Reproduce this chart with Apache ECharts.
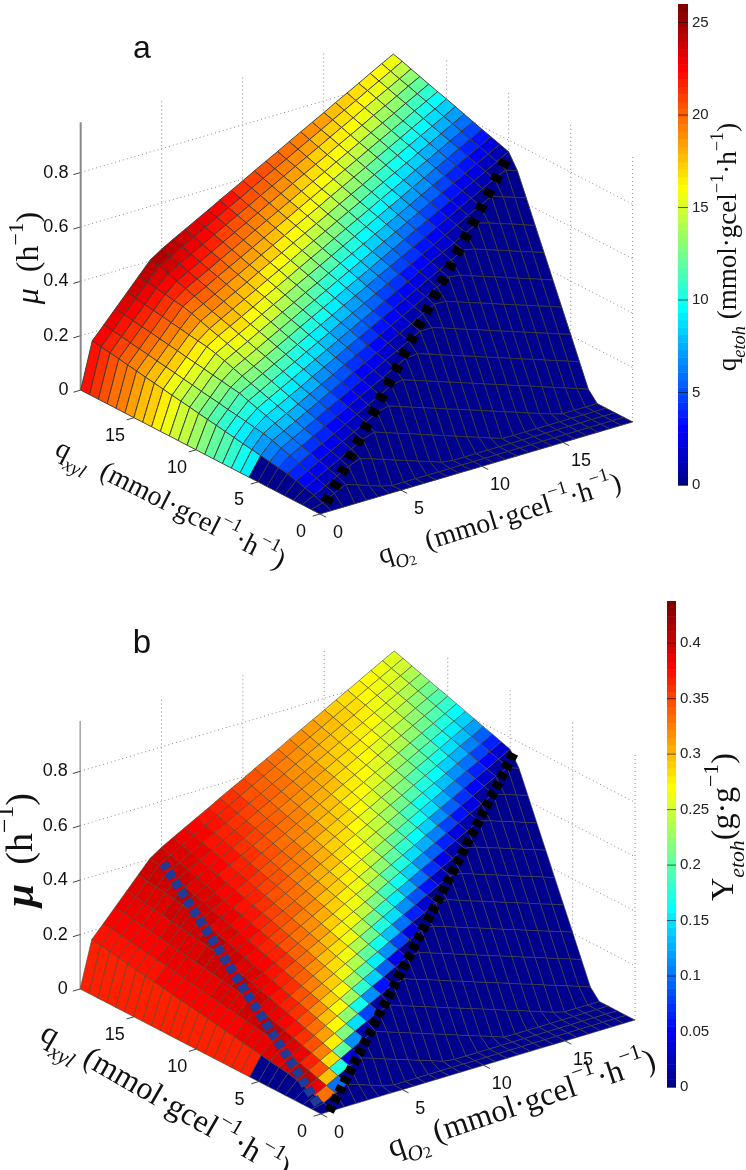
<!DOCTYPE html><html><head><meta charset="utf-8"><style>html,body{margin:0;background:#fff}#c{width:746px;height:1170px}</style>
<script src="https://cdn.jsdelivr.net/npm/echarts@6/dist/echarts.min.js"></script></head><body><div id="c"></div><script>
// grid positions along both floor axes (mmol/gcel/h)
const qO2Values=[0,.715,1.43,2.144,2.859,3.574,4.289,5.004,5.719,6.433,7.148,7.863,8.578,9.293,10.007,10.722,11.437,12.152,12.867,13.581,14.296,15.011,15.726,16.441,17.156,17.87,18.585,19.3];
const qXylValues=[0,.715,1.43,2.144,2.859,3.574,4.289,5.004,5.719,6.433,7.148,7.863,8.578,9.293,10.007,10.722,11.437,12.152,12.867,13.581,14.296,15.011,15.726,16.441,17.156,17.87,18.585,19.3];
// growth rate, in 1/1000 h-1; one row per qXyl, one column per qO2 (missing trailing entries are 0)
const muRows=[
[0],
[0,11,34,54,40,25,10],
[0,22,45,68,91,108,94,79,64,50,35,21,6],
[0,32,56,79,102,126,149,163,148,133,119,104,89,75,60,45,31,16,1],
[0,43,66,90,113,136,160,183,206,217,202,187,173,158,143,129,114,100,85,70,56,41,26,12],
[0,51,77,101,124,147,170,194,217,240,264,271,256,242,227,212,198,183,168,154,139,124,110,95,80,66,51,36],
[0,56,88,111,135,158,181,205,228,251,274,298,321,325,311,296,281,267,252,237,223,208,193,179,164,149,135,120],
[0,61,99,122,145,169,192,215,239,262,285,309,332,355,378,379,365,350,335,321,306,291,277,262,247,233,218,204],
[0,67,110,133,156,180,203,226,249,273,296,319,343,366,389,413,436,434,419,404,390,375,360,346,331,316,302,287],
[0,72,119,144,167,190,214,237,260,284,307,330,353,377,400,423,447,470,493,488,473,458,444,429,414,400,385,370],
[0,77,124,155,178,201,224,248,271,294,318,341,364,388,411,434,457,481,504,527,551,542,527,513,498,483,469,454],
[0,83,130,165,189,212,235,259,282,305,328,352,375,398,422,445,468,492,515,538,561,585,608,596,581,567,552,537],
[0,88,135,176,199,223,246,269,293,316,339,363,386,409,432,456,479,502,526,549,572,596,619,642,665,650,636,621],
[0,94,140,187,210,234,257,280,303,327,350,373,397,420,443,467,490,513,536,560,583,606,630,653,676,700,719,704],
[0,99,146,192,221,244,268,291,314,338,361,384,407,431,454,477,501,524,547,571,594,617,640,664,687,710,734,757],
[0,104,151,198,232,255,278,302,325,348,372,395,418,442,465,488,511,535,558,581,605,628,651,675,698,721,744,768],
[0,110,156,203,243,266,289,313,336,359,382,406,429,452,476,499,522,546,569,592,615,639,662,685,709,732,755,779],
[0,115,162,209,253,277,300,323,347,370,393,417,440,463,486,510,533,556,580,603,626,650,673,696,719,743,766,789],
[0,120,167,214,261,288,311,334,357,381,404,427,451,474,497,521,544,567,590,614,637,660,684,707,730,754,777,800],
[0,126,173,219,266,298,322,345,368,391,415,438,461,485,508,531,555,578,601,625,648,671,694,718,741,764,788,811],
[0,131,178,225,271,309,332,356,379,402,426,449,472,496,519,542,565,589,612,635,659,682,705,729,752,775,798,822],
[0,136,183,230,277,320,343,366,390,413,436,460,483,506,530,553,576,600,623,646,669,693,716,739,763,786,809,833],
[0,142,189,235,282,329,354,377,401,424,447,470,494,517,540,564,587,610,634,657,680,704,727,750,773,797,820,843],
[0,147,194,241,288,334,365,388,411,435,458,481,505,528,551,574,598,621,644,668,691,714,738,761,784,808,831,854],
[0,153,199,246,293,340,376,399,422,445,469,492,515,539,562,585,609,632,655,678,702,725,748,772,795,818,842,865],
[0,158,205,251,298,345,386,410,433,456,480,503,526,549,573,596,619,643,666,689,713,736,759,783,806,829,852,876],
[0,163,210,257,304,350,397,420,444,467,490,514,537,560,584,607,630,653,677,700,723,747,770,793,817,840,863,887],
[0,169,215,262,309,356,403,431,455,478,501,524,548,571,594,618,641,664,688,711,734,757,781,804,827,851,874,897]];
// ethanol rate per cell, in 1/10 mmol/gcel/h (panel a)
const qEtohRows=[
[0],
[0,8,2],
[0,21,14,8,2],
[0,30,26,20,14,8,1],
[0,38,39,32,26,20,13,7,1],
[0,47,50,44,38,32,26,19,13,7],
[0,55,59,57,50,44,38,31,25,19,13,6],
[0,64,68,69,62,56,50,44,37,31,25,18,12,6],
[93,72,76,80,75,68,62,56,49,43,37,31,24,18,12,5],
[100,81,85,89,87,80,74,68,62,55,49,43,36,30,24,18,11,5],
[107,90,93,97,99,93,86,80,74,67,61,55,49,42,36,30,23,17,11,5],
[114,98,102,106,110,105,98,92,86,80,73,67,61,54,48,42,36,29,23,17,10,4],
[121,107,111,114,118,117,111,104,98,92,85,79,73,67,60,54,48,41,35,29,23,16,10,4],
[129,115,119,123,127,129,123,116,110,104,98,91,85,79,72,66,60,54,47,41,35,28,22,16,9,3],
[136,124,128,131,135,139,135,129,122,116,110,103,97,91,85,78,72,66,59,53,47,41,34,28,22,15,9],
[143,132,136,140,144,148,147,141,134,128,122,116,109,103,97,90,84,78,72,65,59,53,46,40,34,27,21],
[150,141,145,149,152,156,158,153,147,140,134,128,121,115,109,103,96,90,84,77,71,65,58,52,46,40,33],
[157,150,153,157,161,165,167,162,158,152,146,140,134,127,121,115,108,102,96,90,83,77,71,64,58,52,45],
[164,158,162,166,170,173,176,171,167,162,158,152,146,139,133,127,121,114,108,102,95,89,83,76,70,64,58],
[171,167,171,174,178,182,185,180,176,171,166,162,157,152,145,139,133,127,120,114,107,101,95,89,82,76,70],
[178,175,179,183,187,190,194,189,185,180,175,171,166,161,157,151,145,139,132,126,120,113,107,101,94,88,82],
[185,184,188,191,195,199,203,198,194,189,184,180,175,170,166,161,157,151,144,138,132,125,119,113,107,100,94],
[192,193,196,200,204,208,211,207,203,198,193,189,184,179,175,170,165,161,156,150,144,138,131,125,119,112,106],
[199,201,205,209,212,216,220,216,212,207,202,198,193,188,184,179,174,170,165,161,156,150,143,137,131,125,118],
[206,210,213,217,221,225,229,225,221,216,211,207,202,197,193,188,183,179,174,169,165,160,156,149,143,137,130],
[213,218,222,226,230,233,237,234,230,225,220,216,211,206,202,197,192,188,183,178,174,169,165,160,155,149,143],
[220,227,231,234,238,242,246,243,239,234,229,225,220,215,211,206,201,197,192,187,183,178,173,169,164,160,155]];
// ethanol yield per cell, in 1/1000 g/g (panel b)
const yEtohRows=[
[0],
[0,334,96],
[0,389,295,176,39],
[0,407,344,282,202,110,19],
[0,409,369,322,275,215,147,78,9],
[0,401,384,346,309,271,223,168,113,59,4],
[0,395,394,362,331,300,268,228,183,137,91,46],
[0,391,401,374,347,320,293,267,232,193,154,115,76,36],
[365,388,406,383,359,336,312,289,265,235,201,167,132,98,64,30],
[365,386,404,389,368,348,327,306,285,264,237,207,176,146,115,85,55,24],
[365,385,401,395,376,357,338,320,301,282,263,239,212,184,157,129,102,75,47,20],
[365,383,398,399,382,365,348,331,314,297,280,262,240,216,191,166,141,116,91,66,41,16],
[365,382,395,403,387,371,356,340,324,309,293,277,262,242,219,196,173,150,127,105,82,59,36,13],
[365,381,393,406,391,377,363,348,334,319,305,290,276,261,243,222,201,179,158,137,116,95,74,53,32,11],
[365,380,391,403,395,382,368,355,341,328,315,301,288,274,261,244,224,204,185,165,146,126,107,87,67,48,28],
[365,379,390,401,398,386,373,361,348,336,323,311,298,286,273,261,244,226,208,190,171,153,135,116,98,80,62],
[365,378,388,398,401,389,378,366,354,342,331,319,307,295,284,272,260,245,228,211,194,177,159,142,125,108,91],
[365,377,387,397,404,393,382,370,359,348,337,326,315,304,293,282,271,260,246,230,214,197,181,165,149,133,117],
[365,377,386,395,404,395,385,375,364,354,343,333,322,312,301,291,281,270,260,246,231,216,200,185,170,155,140],
[365,377,385,394,402,398,388,378,368,358,348,339,329,319,309,299,289,279,269,259,247,232,218,203,189,174,160],
[365,376,384,392,401,400,391,381,372,363,353,344,334,325,316,306,297,287,278,269,259,247,233,220,206,192,178],
[365,376,383,391,399,402,393,384,375,366,357,349,340,331,322,313,304,295,286,277,268,259,247,234,221,208,195],
[365,375,383,390,398,404,396,387,378,370,361,353,344,336,327,319,310,302,293,284,276,267,259,248,235,223,210],
[365,375,382,389,396,403,398,389,381,373,365,357,349,340,332,324,316,308,300,291,283,275,267,259,248,236,224],
[365,375,382,388,395,402,400,392,384,376,368,360,353,345,337,329,321,313,306,298,290,282,274,266,259,249,237],
[365,375,381,388,394,401,401,394,386,379,371,364,356,349,341,334,326,319,311,304,296,288,281,273,266,258,249],
[365,374,381,387,393,399,403,396,388,381,374,367,360,352,345,338,331,323,316,309,302,294,287,280,273,266,258]];
const zTicks=[0,.2,.4,.6,.8],floorTicks=[0,5,10,15],cbTicksA=[0,5,10,15,20,25],cbTicksB=[0,.05,.1,.15,.2,.25,.3,.35,.4];
// dashed curves on the surface: [qO2, qXyl, mu]
const blackLineA=[[.6,.31,.023],[19.3,10,.746]],blackLineB=[[.5,0,0],[19.3,9.7,.752]],blueLineB=[[.2,.5,.02],[4.5,18.5,.40]];
const N=28,QMAX=19.3,ZTOP=.985;
const panels=[
 {ux:16.2,uy:-12.4,vx:4.77,vy:6.42,vz:272,c:qEtohRows,scale:10,max:26,stroke:'rgba(55,55,55,.9)',lw:1,axisW:2,axisC:'#888'},
 {ux:16.27,uy:-12.48,vx:4.87,vy:6.48,vz:272,c:yEtohRows,scale:1000,max:.438,stroke:'rgba(70,70,50,.7)',lw:.85,axisW:1,axisC:'#777'}];
function jet(t){t=Math.max(0,Math.min(.9999,t));const k=(Math.floor(t*64)+1)/64,f=a=>Math.round(255*Math.max(0,Math.min(1,1.5-Math.abs(4*k-a))));return `rgb(${f(3)},${f(2)},${f(1)})`}
const proj=(P,q,y,z)=>[P.ux*q+P.uy*y, P.vx*q+P.vy*y+P.vz*z];
function cellSeries(P,idx){const data=[];for(let j=N-2;j>=0;j--)for(let i=N-2;i>=0;i--)data.push([i,j]);
 return {type:'custom',xAxisIndex:idx,yAxisIndex:idx,clip:false,silent:true,z:3,data,renderItem(p,api){const i=api.value(0),j=api.value(1);
  const pts=[[i,j],[i+1,j],[i+1,j+1],[i,j+1]].map(([a,b])=>api.coord(proj(P,qO2Values[a],qXylValues[b],(muRows[b][a]||0)/1000)));
  return {type:'polygon',shape:{points:pts},style:{fill:jet((P.c[j][i]||0)/P.scale/P.max),stroke:P.stroke,lineWidth:P.lw}}}}}
function frameSeries(P,idx){return {type:'custom',xAxisIndex:idx,yAxisIndex:idx,clip:false,silent:true,z:2,data:[[0]],renderItem(p,api){
  const c=(q,y,z)=>api.coord(proj(P,q,y,z)),ch=[];
  const L=(a,b,st)=>ch.push({type:'line',shape:{x1:a[0],y1:a[1],x2:b[0],y2:b[1]},style:st});
  const dot={stroke:'#8a8a8a',lineWidth:1,lineDash:[1,3]},tk={stroke:'#444',lineWidth:1},font='18px "Liberation Sans"';
  zTicks.forEach(z=>{if(z>0){L(c(0,QMAX,z),c(QMAX,QMAX,z),dot);L(c(QMAX,QMAX,z),c(QMAX,0,z),dot);}L(c(-.45,QMAX,z),c(0,QMAX,z),tk);
   const e=c(-.45,QMAX,z);ch.push({type:'text',style:{text:String(z),x:e[0]-5,y:e[1]-2,align:'right',verticalAlign:'middle',font,fill:'#111'}})});
  floorTicks.forEach(t=>{if(t>0){L(c(t,QMAX,0),c(t,QMAX,ZTOP),dot);L(c(QMAX,t,0),c(QMAX,t,ZTOP),dot);}
   const a=c(0,t,0),b=c(t,0,0);L(c(-.45,t,0),a,tk);L(c(t,-.5,0),b,tk);
   ch.push({type:'text',style:{text:String(t),x:a[0]-19,y:a[1]+18,align:'center',verticalAlign:'middle',font,fill:'#111'}});
   ch.push({type:'text',style:{text:String(t),x:b[0]+18,y:b[1]+19,align:'center',verticalAlign:'middle',font,fill:'#111'}});});
  L(c(QMAX,0,0),c(QMAX,0,ZTOP),dot);
  L(c(0,QMAX,0),c(0,QMAX,ZTOP),{stroke:P.axisC,lineWidth:P.axisW});
  return {type:'group',children:ch}}}}
function lineSeries(P,idx,pts,color,w,dash){return {type:'custom',xAxisIndex:idx,yAxisIndex:idx,clip:false,silent:true,z:4,data:[[0]],renderItem(p,api){
  return {type:'polyline',shape:{points:pts.map(a=>api.coord(proj(P,a[0],a[1],a[2])))},style:{stroke:color,fill:null,lineWidth:w,lineDash:dash}}}}}
function barSeries(idx,max){const data=[];for(let k=0;k<64;k++)data.push(k);return {type:'custom',xAxisIndex:idx,yAxisIndex:idx,silent:true,z:1,data,renderItem(p,api){
  const k=api.value(0),a=api.coord([0,k/64*max]),b=api.coord([1,(k+1)/64*max]);return {type:'rect',shape:{x:a[0],y:b[1],width:b[0]-a[0],height:a[1]-b[1]+.5},style:{fill:jet((k+.5)/64)}}}}}
function tickSeries(idx,ticks){return {type:'custom',xAxisIndex:idx,yAxisIndex:idx,silent:true,z:2,data:ticks.map(t=>[t]),renderItem(p,api){const v=api.value(0),a=api.coord([0,v]),b=api.coord([1,v]);return {type:'line',shape:{x1:a[0],y1:a[1],x2:b[0],y2:b[1]},style:{stroke:'rgba(0,0,0,.6)',lineWidth:1}}}}}
const grids=[{left:0,top:0,width:746,height:585},{left:0,top:585,width:746,height:585},{left:678,top:4,width:10,height:481},{left:667,top:601,width:9,height:486}];
const xAxis=[{min:-320,max:426},{min:-321,max:425},{min:0,max:1},{min:0,max:1}].map((a,i)=>({...a,type:'value',show:false,gridIndex:i}));
const yAxis=[{min:-71,max:514,show:false},{min:-56,max:529,show:false}].map((a,i)=>({...a,type:'value',gridIndex:i}));
[[26,cbTicksA],[.438,cbTicksB]].forEach(([mx,t],i)=>yAxis.push({type:'value',gridIndex:i+2,min:0,max:mx,position:'right',z:5,splitLine:{show:false},axisLine:{show:false},axisTick:{show:false},axisLabel:{customValues:t,margin:4,fontSize:15,fontFamily:'Liberation Sans',color:'#222'}}));
const R='Liberation Serif';
const rich=s=>({t:{fontFamily:R,fontSize:s,lineHeight:s*1.5,verticalAlign:'middle',fill:'#111'},i:{fontFamily:R,fontStyle:'italic',fontSize:s,lineHeight:s*1.5,fill:'#111'},sub:{fontFamily:R,fontStyle:'italic',fontSize:s*.68,lineHeight:s*.85,verticalAlign:'bottom',fill:'#111'},sub2:{fontFamily:R,fontSize:s*.5,lineHeight:s*.6,verticalAlign:'bottom',fill:'#111'},sup:{fontFamily:R,fontSize:s*.68,lineHeight:s*.7,verticalAlign:'top',fill:'#111'},b:{fontFamily:R,fontStyle:'italic',fontWeight:'bold',fontSize:s*1.1,lineHeight:s*1.5,fill:'#111'}});
const T=(x,y,deg,text,s)=>({type:'text',x,y,rotation:deg*Math.PI/180,silent:true,z:10,style:{text,rich:rich(s),align:'center',verticalAlign:'middle'}});
const unit='{t|(mmol·gcel}{sup|−1}{t|·h}{sup|−1}{t|)}';
const graphic=[
 {type:'text',x:142,y:49,silent:true,style:{text:'a',font:'32px "Liberation Sans"',fill:'#111',align:'center',verticalAlign:'middle'}},
 {type:'text',x:142,y:644,silent:true,style:{text:'b',font:'33px "Liberation Sans"',fill:'#111',align:'center',verticalAlign:'middle'}},
 T(30,258,90,'{i|μ}{t|  (h}{sup|−1}{t|)}',32),
 T(170,505,-27,'{t|q}{sub|xyl}{t|  }'+unit,28),
 T(500,520,17,'{t|q}{sub|O}{sub2|2}{t|  }'+unit,28),
 T(729,247,90,'{t|q}{sub|etoh}{t| }'+unit,27),
 T(22,850,90,'{b|μ}{t|  (h}{sup|−1}{t|)}',38),
 T(165,1102,-30,'{t|q}{sub|xyl}{t| }'+unit,32),
 T(522,1105,18.5,'{t|q}{sub|O}{sub2|2}{t| }'+unit,32),
 T(725,827,90,'{t|Y}{sub|etoh}{t|(g·g}{sup|−1}{t|)}',32)];
const series=[frameSeries(panels[0],0),cellSeries(panels[0],0),lineSeries(panels[0],0,blackLineA,'#000',11,[7.5,9]),
 frameSeries(panels[1],1),cellSeries(panels[1],1),lineSeries(panels[1],1,blueLineB,'#1f3b96',9.5,[8,3.2]),lineSeries(panels[1],1,blackLineB,'#000',10,[7,3.7]),barSeries(2,26),barSeries(3,.438),tickSeries(2,cbTicksA),tickSeries(3,cbTicksB)];
echarts.init(document.getElementById('c'),null,{renderer:'canvas'}).setOption({animation:false,backgroundColor:'#fff',grid:grids,xAxis,yAxis,series,graphic});
</script></body></html>
